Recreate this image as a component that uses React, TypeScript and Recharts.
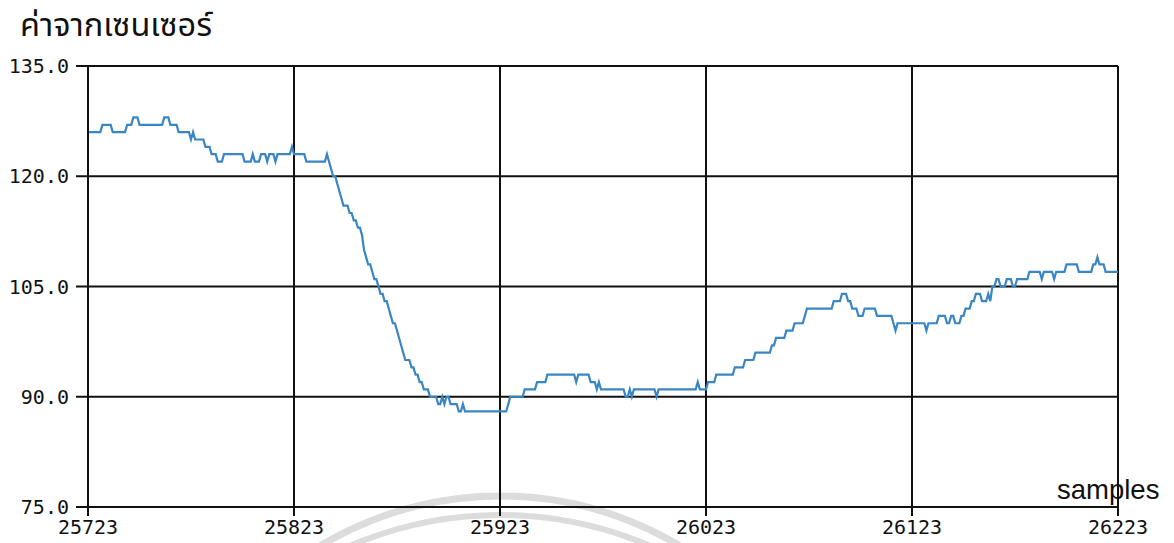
import React from 'react';
import { LineChart, Line, XAxis, YAxis, CartesianGrid } from 'recharts';

const startSample = 25723;
const xTicks = [25723, 25823, 25923, 26023, 26123, 26223];
const yTicks = [75, 90, 105, 120, 135];
const yLabel = 'ค่าจากเซนเซอร์';
const xLabel = 'samples';

// Sensor readings: value held for N consecutive samples
const runValues = [
  126, 127, 126, 127, 128, 127, 128, 127, 126, 125, 126, 125, 124, 123, 122, 123, 122, 123, 122, 123,
  122, 123, 122, 123, 124, 123, 122, 123, 122, 121, 120, 119, 118, 117, 116, 115, 114, 113, 112, 110,
  109, 108, 107, 106, 105, 104, 103, 102, 101, 100, 99, 98, 97, 96, 95, 94, 93, 92, 91, 90,
  89, 90, 89, 90, 89, 88, 89, 88, 89, 90, 91, 92, 93, 92, 93, 92, 91, 92, 91, 90,
  91, 90, 91, 90, 91, 92, 91, 92, 93, 94, 95, 96, 97, 98, 99, 100, 101, 102, 103, 104,
  103, 102, 101, 102, 101, 100, 99, 100, 99, 100, 101, 100, 101, 100, 101, 102, 103, 104, 103, 104,
  103, 105, 106, 105, 106, 105, 106, 107, 106, 107, 106, 107, 108, 107, 108, 109, 108, 107,
];
const runLengths = [
  7, 5, 7, 3, 3, 12, 3, 4, 6, 1, 1, 5, 3, 3, 3, 10, 4, 1, 3, 3,
  1, 3, 1, 7, 1, 6, 10, 1, 1, 1, 2, 1, 1, 1, 3, 2, 2, 2, 1, 1,
  1, 2, 1, 2, 1, 2, 2, 1, 1, 2, 1, 1, 1, 1, 3, 2, 2, 2, 3, 4,
  2, 1, 1, 2, 4, 2, 1, 21, 1, 7, 6, 5, 14, 1, 6, 3, 1, 1, 12, 2,
  1, 1, 11, 1, 19, 1, 4, 4, 9, 5, 5, 8, 2, 5, 4, 5, 1, 13, 4, 3,
  2, 3, 3, 6, 8, 1, 1, 14, 1, 5, 4, 2, 2, 3, 2, 3, 2, 3, 3, 1,
  1, 2, 2, 3, 3, 2, 6, 6, 1, 5, 1, 5, 6, 7, 2, 1, 3, 7,
];

const data: { sample: number; value: number }[] = [];
runValues.forEach((v, i) => {
  for (let k = 0; k < runLengths[i]; k++) {
    data.push({ sample: startSample + data.length, value: v });
  }
});

const tickStyle = { fontFamily: 'DejaVu Sans Mono, monospace', fontSize: 20, fill: '#111' };

export default function App() {
  return (
    <div style={{ position: 'absolute', left: 0, top: 0, width: 1174, height: 543, background: '#fff', overflow: 'hidden' }}>
      <svg width={1174} height={543} style={{ position: 'absolute', left: 0, top: 0 }}>
        <circle cx={500} cy={845} r={349} fill="none" stroke="#dcdcdc" strokeWidth={7} />
        <circle cx={500} cy={894} r={379} fill="none" stroke="#dcdcdc" strokeWidth={6} />
        <text x={20} y={36} fontSize={32.5} fill="#111" fontFamily="Tahoma, 'Noto Sans Thai', 'Liberation Sans', sans-serif">{yLabel}</text>
        <text x={1057} y={499} fontSize={27.5} fill="#111" fontFamily="'Liberation Sans', Arial, sans-serif">{xLabel}</text>
      </svg>
      <div style={{ position: 'absolute', left: 0, top: 0 }}>
        <LineChart width={1174} height={543} data={data} margin={{ top: 66, right: 56, bottom: 0, left: 0 }}>
          <CartesianGrid stroke="#111" strokeWidth={2} strokeDasharray="" />
          <XAxis
            dataKey="sample"
            type="number"
            domain={[25723, 26223]}
            ticks={xTicks}
            interval={0}
            height={36}
            tickSize={9}
            tickMargin={4}
            axisLine={{ stroke: '#111', strokeWidth: 2 }}
            tickLine={{ stroke: '#111', strokeWidth: 2 }}
            tick={tickStyle}
          />
          <YAxis
            type="number"
            domain={[75, 135]}
            ticks={yTicks}
            interval={0}
            width={88}
            tickSize={12}
            tickMargin={7}
            tickFormatter={(v: number) => v.toFixed(1)}
            axisLine={{ stroke: '#111', strokeWidth: 2 }}
            tickLine={{ stroke: '#111', strokeWidth: 2 }}
            tick={tickStyle}
          />
          <Line
            type="linear"
            dataKey="value"
            stroke="#3a86c4"
            strokeWidth={2.2}
            dot={false}
            isAnimationActive={false}
          />
        </LineChart>
      </div>
    </div>
  );
}
